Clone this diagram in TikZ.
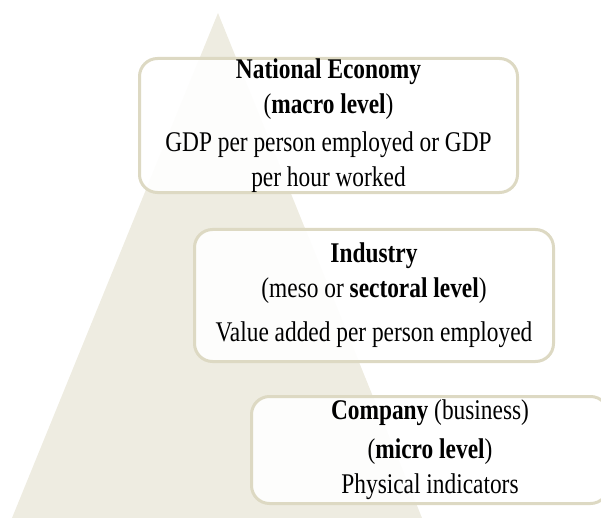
\documentclass[tikz,border=0pt]{standalone}
\usepackage{fontspec}
\setmainfont{Liberation Serif}[FakeStretch=0.82]
\usepackage{tikz}
\definecolor{tanbg}{HTML}{EEECE1}
\definecolor{tanline}{HTML}{DDD9C3}

\begin{document}
\begin{tikzpicture}[x=1bp, y=-1bp,
    levelbox/.style={draw=tanline, line width=3bp, fill=white, fill opacity=0.9,
      text opacity=1, rounded corners=18bp, align=center, inner sep=0pt,
      font=\fontsize{28.5bp}{35bp}\selectfont}]
  \useasboundingbox (0,0) rectangle (601,518);
  \clip (0,0) rectangle (601,518);

  % the pyramid behind the levels
  \fill[tanbg] (218,13) -- (422,518) -- (12,518) -- cycle;

  \node[levelbox, minimum width=378bp, minimum height=134bp] (macro) at (328.5,125.5)
    {\textbf{National Economy}\\(\textbf{macro level})\\[3bp]GDP per person employed or GDP\\per hour worked};
  \node[levelbox, minimum width=359bp, minimum height=132bp] (meso) at (374,295.5)
    {\textbf{Industry}\\(meso or \textbf{sectoral level})\\[9bp]Value added per person employed};
  \node[levelbox, minimum width=357bp, minimum height=107bp] (micro) at (430,450)
    {\textbf{Company} (business)\\[4bp](\textbf{micro level})\\Physical indicators};
\end{tikzpicture}
\end{document}
